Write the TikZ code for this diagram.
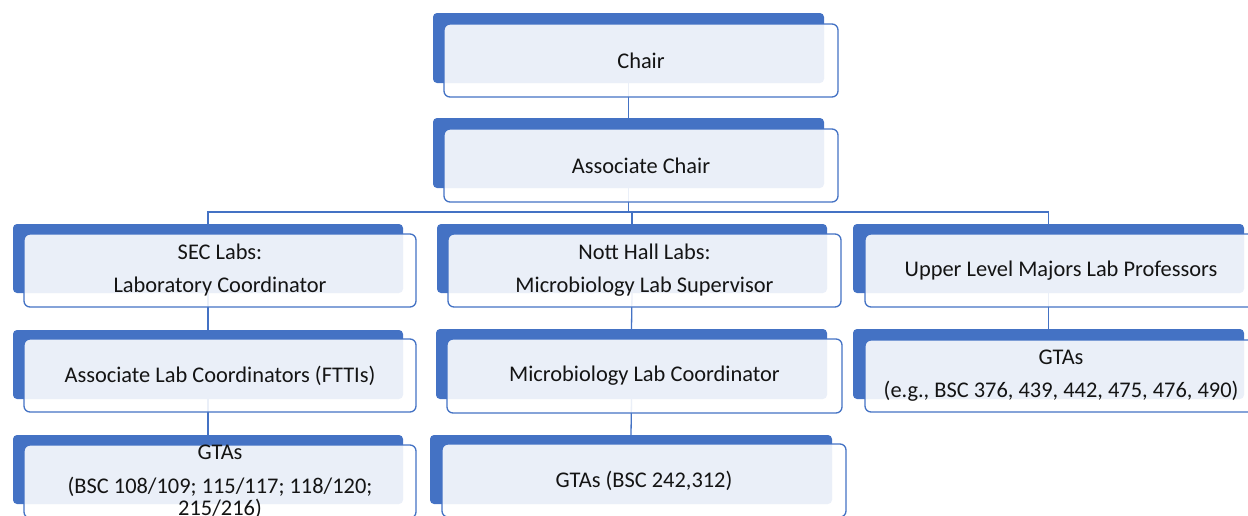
\documentclass[tikz,border=0pt]{standalone}
\usepackage{fontspec}
\setmainfont{Carlito}
\definecolor{orgblue}{HTML}{4472C4}
\definecolor{txtcol}{HTML}{141414}
\pgfdeclarelayer{background}
\pgfsetlayers{background,main}
\tikzset{
  backbox/.style={fill=orgblue, rounded corners=4pt, inner sep=0pt, outer sep=0pt, draw=none},
  frontbox/.style={draw=orgblue, line width=1.3pt, fill=white, fill opacity=0.89, rounded corners=6pt, inner sep=0pt, outer sep=0pt},
  txt/.style={text=txtcol, align=center, font=\fontsize{22.4}{22}\selectfont, inner sep=0pt},
  conn/.style={draw=orgblue, line width=1.3pt}
}
\newcommand{\backbox}[5]{%
  \node[backbox, minimum width={(#4-#2)*1pt}, minimum height={(#5-#3)*1pt}] (#1B) at ({(#2+#4)/2},{(#3+#5)/2}) {};}
\newcommand{\frontbox}[6]{%
  \node[frontbox, minimum width={(#4-#2)*1pt}, minimum height={(#5-#3)*1pt}] (#1F) at ({(#2+#4)/2},{(#3+#5)/2}) {};
  \node[txt] (#1T) at (#1F.center) {#6};}
\begin{document}
\begin{tikzpicture}[x=1pt,y=-1pt]
\useasboundingbox (0,0) rectangle (1248,515);
\clip (0,0) rectangle (1248,515);
% level 1
\backbox{chair}{433}{13}{824}{83}
\frontbox{chair}{444}{24}{838}{97}{Chair}
\backbox{assoc}{433}{118}{824}{188}
\frontbox{assoc}{444}{129}{838}{202}{Associate Chair}
% level 2
\backbox{sec}{13}{224}{403}{293}
\frontbox{sec}{24}{234}{416}{307}{SEC Labs:\\[11pt]Laboratory Coordinator}
\backbox{nott}{437}{224}{827}{293}
\frontbox{nott}{448}{234}{841}{307}{Nott Hall Labs:\\[11pt]Microbiology Lab Supervisor}
\backbox{up}{853}{224}{1244}{293}
\frontbox{up}{865}{234}{1257}{307}{Upper Level Majors Lab Professors}
% level 3
\backbox{secA}{13}{330}{403}{399}
\frontbox{secA}{24}{339}{416}{412}{Associate Lab Coordinators (FTTIs)}
\backbox{micro}{436}{329}{827}{399}
\frontbox{micro}{447}{339}{842}{413}{Microbiology Lab Coordinator}
\backbox{upG}{853}{329}{1244}{399}
\frontbox{upG}{865}{340}{1257}{412}{GTAs\\[11pt](e.g., BSC 376, 439, 442, 475, 476, 490)}
% level 4
\backbox{secG}{13}{435}{403}{504}
\frontbox{secG}{24}{445}{416}{518}{GTAs\\[12pt](BSC 108/109; 115/117; 118/120;\\215/216)}
\backbox{nottG}{430}{435}{832}{504}
\frontbox{nottG}{442}{444}{846}{517}{GTAs (BSC 242,312)}
% connectors
\begin{pgfonlayer}{background}
\coordinate (bus) at (628.5,212);
\draw[conn] (chairB.south) -- (assocB.north);
\draw[conn] (assocB.south) -- (bus);
\draw[conn] (secB.north) |- (bus) -| (upB.north);
\draw[conn] (nottB.north) -- (nottB.north |- bus);
\draw[conn] (secB.south) -- (secAB.north);
\draw[conn] (secAB.south) -- (secGB.north);
\draw[conn] (nottB.south) -- (microB.north);
\draw[conn] (microB.south) -- (nottGB.north);
\draw[conn] (upB.south) -- (upGB.north);
\end{pgfonlayer}
\end{tikzpicture}
\end{document}
